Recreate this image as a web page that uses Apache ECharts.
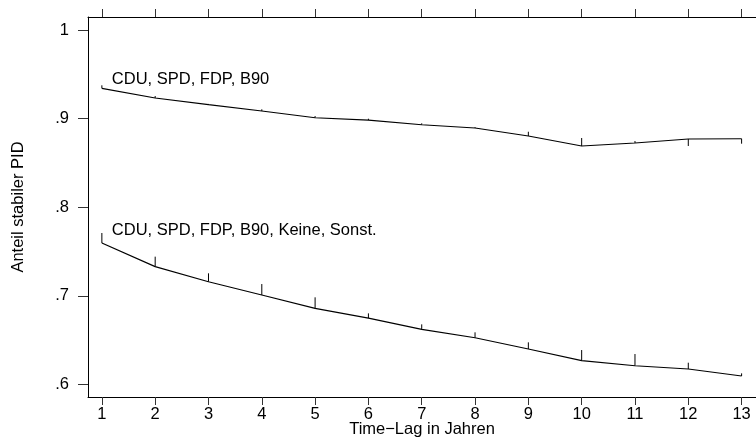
<!DOCTYPE html>
<html>
<head>
<meta charset="utf-8">
<script src="https://cdn.jsdelivr.net/npm/echarts@6/dist/echarts.min.js"></script>
<style>
html,body{margin:0;padding:0;background:#fff;}
#chart{width:756px;height:440px;}
</style>
</head>
<body>
<div id="chart"></div>
<script>
// --- data ---
const lags = [1, 2, 3, 4, 5, 6, 7, 8, 9, 10, 11, 12, 13];
const xTickValues = [1, 2, 3, 4, 5, 6, 7, 8, 9, 10, 11, 12, 13];
const yTickValues = [0.6, 0.7, 0.8, 0.9, 1.0];
const yTickLabels = ['.6', '.7', '.8', '.9', '1'];

const upperName = 'CDU, SPD, FDP, B90';
const upperValues = [0.9342, 0.9233, 0.9157, 0.9086, 0.9010, 0.8984, 0.8931, 0.8894, 0.8804, 0.8691, 0.8725, 0.8770, 0.8773];
const upperSpikeEnds = [0.9376, 0.9255, 0.9166, 0.9105, 0.9029, 0.8999, 0.8947, 0.8903, 0.8852, 0.8781, 0.8747, 0.8691, 0.8717];

const lowerName = 'CDU, SPD, FDP, B90, Keine, Sonst.';
const lowerValues = [0.7596, 0.7329, 0.7159, 0.7009, 0.6859, 0.6749, 0.6622, 0.6527, 0.6400, 0.6268, 0.6211, 0.6174, 0.6095];
const lowerSpikeEnds = [0.7709, 0.7442, 0.7254, 0.7133, 0.6983, 0.6802, 0.6678, 0.6588, 0.6475, 0.6388, 0.6343, 0.6245, 0.6125];

const xTitle = 'Time\u2212Lag in Jahren';
const yTitle = 'Anteil stabiler PID';

// --- chart ---
const FONT = '"Liberation Sans", Arial, Helvetica, sans-serif';
const FS = 16.5;
const chart = echarts.init(document.getElementById('chart'), null, {renderer: 'canvas'});

function pairs(vals) { return lags.map((x, i) => [x, vals[i]]); }
function spikes(vals, ends) { return lags.map((x, i) => [x, vals[i], ends[i]]); }

function spikeRender(params, api) {
  const p0 = api.coord([api.value(0), api.value(1)]);
  const p1 = api.coord([api.value(0), api.value(2)]);
  return {
    type: 'line',
    shape: {x1: p0[0], y1: p0[1], x2: p1[0], y2: p1[1]},
    style: {stroke: '#000', lineWidth: 1}
  };
}

function labelPoint(name, vals, dy) {
  return {
    symbol: 'circle',
    symbolSize: 0,
    data: [{coord: [lags[0], vals[0]], value: name}],
    label: {
      show: true, position: 'right', distance: 5, offset: [5, dy],
      formatter: name, color: '#000', fontSize: FS, fontFamily: FONT
    },
    itemStyle: {color: 'transparent'}
  };
}

const option = {
  animation: false,
  backgroundColor: '#fff',
  grid: {left: 88, right: 0, top: 17, bottom: 43, containLabel: false, outerBoundsMode: 'none'},
  xAxis: [{
    type: 'value', position: 'bottom', min: 0.74, max: 13.27,
    splitLine: {show: false},
    axisLine: {show: true, onZero: false, lineStyle: {color: '#000', width: 1}},
    axisTick: {show: true, customValues: xTickValues, length: 8, lineStyle: {color: '#333'}},
    axisLabel: {show: true, customValues: xTickValues, margin: 9, color: '#000', fontSize: FS, fontFamily: FONT},
    name: xTitle, nameLocation: 'middle', nameGap: 24, nameMoveOverlap: false,
    nameTextStyle: {color: '#000', fontSize: FS, fontFamily: FONT}
  }, {
    type: 'value', position: 'top', min: 0.74, max: 13.27,
    splitLine: {show: false},
    axisLine: {show: true, onZero: false, lineStyle: {color: '#000', width: 1}},
    axisTick: {show: true, customValues: xTickValues, length: 8, lineStyle: {color: '#333'}},
    axisLabel: {show: false}
  }],
  yAxis: [{
    type: 'value', min: 0.5858, max: 1.0147,
    splitLine: {show: false},
    axisLine: {show: true, onZero: false, lineStyle: {color: '#000', width: 1}},
    axisTick: {show: true, customValues: yTickValues, length: 10, lineStyle: {color: '#333'}},
    axisLabel: {
      show: true, customValues: yTickValues, margin: 19, color: '#000', fontSize: FS, fontFamily: FONT,
      formatter: function (v) {
        const i = yTickValues.findIndex(t => Math.abs(t - v) < 1e-6);
        return i >= 0 ? yTickLabels[i] : '';
      }
    },
    name: yTitle, nameLocation: 'middle', nameGap: 61, nameRotate: 90, nameMoveOverlap: false,
    nameTextStyle: {color: '#000', fontSize: FS, fontFamily: FONT}
  }],
  series: [{
    type: 'line', name: upperName, data: pairs(upperValues),
    xAxisIndex: 0, yAxisIndex: 0,
    showSymbol: false, symbol: 'none',
    lineStyle: {color: '#000', width: 1.2},
    markPoint: labelPoint(upperName, upperValues, -9)
  }, {
    type: 'line', name: lowerName, data: pairs(lowerValues),
    xAxisIndex: 0, yAxisIndex: 0,
    showSymbol: false, symbol: 'none',
    lineStyle: {color: '#000', width: 1.2},
    markPoint: labelPoint(lowerName, lowerValues, -12.5)
  }, {
    type: 'custom', name: upperName + ' spikes', xAxisIndex: 0, yAxisIndex: 0,
    renderItem: spikeRender, data: spikes(upperValues, upperSpikeEnds),
    encode: {x: 0, y: [1, 2]}, silent: true
  }, {
    type: 'custom', name: lowerName + ' spikes', xAxisIndex: 0, yAxisIndex: 0,
    renderItem: spikeRender, data: spikes(lowerValues, lowerSpikeEnds),
    encode: {x: 0, y: [1, 2]}, silent: true
  }]
};
chart.setOption(option);
</script>
</body>
</html>
